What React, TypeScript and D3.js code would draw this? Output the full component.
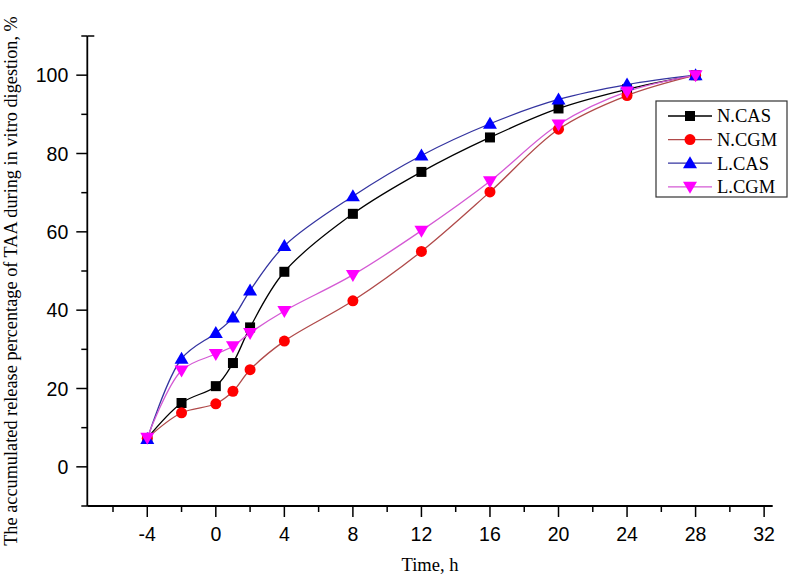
import React from "react";
import * as d3 from "d3";

const times = [-4, -2, 0, 1, 2, 4, 8, 12, 16, 20, 24, 28];
const nCAS = [7.3, 16.3, 20.6, 26.5, 35.6, 49.8, 64.6, 75.3, 84.1, 91.5, 96.4, 100];
const nCGM = [7.3, 13.8, 16.1, 19.3, 24.8, 32.1, 42.4, 55, 70.2, 86.2, 94.8, 100];
const lCAS = [7.1, 27.6, 34.2, 38.1, 45, 56.4, 69.1, 79.5, 87.6, 93.8, 97.6, 100];
const lCGM = [7.4, 24.6, 28.8, 30.8, 34.2, 39.8, 49, 60.3, 72.9, 87.4, 95.8, 100];
const seriesNames = ["N.CAS", "N.CGM", "L.CAS", "L.CGM"];
const xTicks = [-4, 0, 4, 8, 12, 16, 20, 24, 28, 32];
const xMinor = [-6, -2, 2, 6, 10, 14, 18, 22, 26, 30];
const yTicks = [0, 20, 40, 60, 80, 100];
const yMinor = [-10, 10, 30, 50, 70, 90, 110];

const styles = [
  { line: "#000000", fill: "#000000", shape: "square" },
  { line: "#b04a4a", fill: "#ff0000", shape: "circle" },
  { line: "#3434a0", fill: "#0000ff", shape: "up" },
  { line: "#d45ad4", fill: "#ff00ff", shape: "down" },
];

function Marker({ shape, fill, x, y }: { shape: string; fill: string; x: number; y: number }) {
  if (shape === "square") return <rect x={x - 5} y={y - 5} width={10} height={10} fill={fill} />;
  if (shape === "circle") return <circle cx={x} cy={y} r={5.5} fill={fill} />;
  if (shape === "up")
    return <path d={`M${x},${y - 7} L${x + 7},${y + 5} L${x - 7},${y + 5} Z`} fill={fill} />;
  return <path d={`M${x},${y + 7} L${x + 7},${y - 5} L${x - 7},${y - 5} Z`} fill={fill} />;
}

export default function App() {
  const W = 792, H = 581;
  const left = 87.3, right = 772.7, top = 36, bottom = 506;
  const x = d3.scaleLinear().domain([-7.5, 32.5]).range([left, right]);
  const y = d3.scaleLinear().domain([-10, 110]).range([bottom, top]);
  const data = [nCAS, nCGM, lCAS, lCGM];
  const line = d3
    .line<[number, number]>()
    .x((d) => x(d[0]))
    .y((d) => y(d[1]))
    .curve(d3.curveCatmullRom.alpha(0.5));

  const tickFont = "'Liberation Sans', Arial, sans-serif";
  const serif = "'Liberation Serif', 'Times New Roman', serif";

  return (
    <svg width={W} height={H} style={{ position: "absolute", left: 0, top: 0, background: "#fff" }}>
      <rect width={W} height={H} fill="#fff" />
      {data.map((vals, i) => (
        <path
          key={"l" + i}
          d={line(times.map((t, j) => [t, vals[j]]) as [number, number][]) || ""}
          fill="none"
          stroke={styles[i].line}
          strokeWidth={1.3}
        />
      ))}
      {data.map((vals, i) =>
        times.map((t, j) => (
          <Marker key={`m${i}-${j}`} shape={styles[i].shape} fill={styles[i].fill} x={x(t)} y={y(vals[j])} />
        ))
      )}
      <line x1={left} x2={left} y1={top} y2={bottom} stroke="#000" strokeWidth={1.8} />
      <line x1={left} x2={right} y1={bottom} y2={bottom} stroke="#000" strokeWidth={1.8} />
      <line x1={left} x2={left + 7} y1={top} y2={top} stroke="#000" strokeWidth={1.5} />
      {yTicks.map((v) => (
        <g key={"yt" + v}>
          <line x1={left - 11} x2={left} y1={y(v)} y2={y(v)} stroke="#000" strokeWidth={1.5} />
          <text
            x={left - 19}
            y={y(v)}
            dy="0.36em"
            textAnchor="end"
            fontFamily={tickFont}
            fontSize={19.5}
            fill="#000"
          >
            {v}
          </text>
        </g>
      ))}
      {yMinor.map((v) => (
        <line key={"ym" + v} x1={left - 6} x2={left} y1={y(v)} y2={y(v)} stroke="#000" strokeWidth={1.5} />
      ))}
      {xTicks.map((v) => (
        <g key={"xt" + v}>
          <line x1={x(v)} x2={x(v)} y1={bottom} y2={bottom + 11} stroke="#000" strokeWidth={1.5} />
          <text
            x={x(v)}
            y={bottom + 34.5}
            textAnchor="middle"
            fontFamily={tickFont}
            fontSize={19.5}
            fill="#000"
          >
            {v}
          </text>
        </g>
      ))}
      {xMinor.map((v) => (
        <line key={"xm" + v} x1={x(v)} x2={x(v)} y1={bottom} y2={bottom + 6} stroke="#000" strokeWidth={1.5} />
      ))}
      <text x={430} y={571} textAnchor="middle" fontFamily={serif} fontSize={18.5} fill="#000">
        Time, h
      </text>
      <text
        transform={`translate(17,${(top + bottom) / 2 + 10}) rotate(-90)`}
        textAnchor="middle"
        fontFamily={serif}
        fontSize={18.3}
        fill="#000"
      >
        The accumulated release percentage of TAA during in vitro digestion, %
      </text>
      <rect x={656} y={101} width={131} height={96} fill="#fff" stroke="#333" strokeWidth={1.2} />
      {seriesNames.map((name, i) => {
        const ly = 116 + i * 23.6;
        return (
          <g key={"lg" + i}>
            <line x1={668} x2={712} y1={ly} y2={ly} stroke={styles[i].line} strokeWidth={1.3} />
            <Marker shape={styles[i].shape} fill={styles[i].fill} x={690} y={ly} />
            <text x={717} y={ly} dy="0.35em" fontFamily={serif} fontSize={18.5} fill="#000">
              {name}
            </text>
          </g>
        );
      })}
    </svg>
  );
}
